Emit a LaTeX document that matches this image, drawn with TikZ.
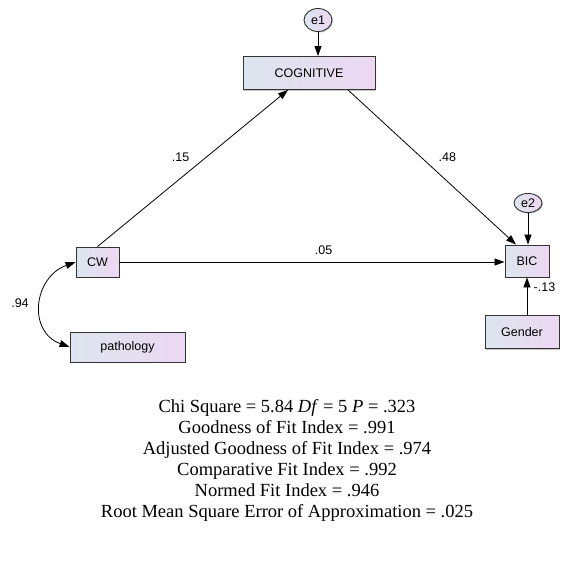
\documentclass[tikz,border=0pt]{standalone}
\usepackage{fontspec}
\setmainfont{Liberation Serif}
\setsansfont{Liberation Sans}
\usetikzlibrary{arrows.meta}
\usetikzlibrary{positioning}
\usetikzlibrary{shapes.geometric}
\usetikzlibrary{shadows}
\definecolor{boxl}{RGB}{221,229,238}
\definecolor{boxr}{RGB}{236,216,242}
\tikzset{var/.style = {draw = black!80, line width = 0.9pt, left color = boxl, right color = boxr,
                       drop shadow = {shadow xshift = 1pt, shadow yshift = -1pt, fill = black!45},
                       inner sep = 0, font = \sffamily\fontsize{12.5}{14}\selectfont}}
\tikzset{err/.style = {var, ellipse}}
\tikzset{arr/.style = {-{Triangle[length = 10pt, width = 7pt]}, line width = 0.8pt}}
\tikzset{cov/.style = {{Triangle[length = 10pt, width = 7pt]}-{Triangle[length = 10pt, width = 7pt]}, line width = 0.8pt}}
\tikzset{coef/.style = {font = \sffamily\fontsize{12.5}{14}\selectfont}}

\begin{document}
\begin{tikzpicture}[x = 1pt, y = -1pt]
      \useasboundingbox (0, 0) rectangle (562, 560);
      \node [err, minimum width = 28, minimum height = 23] (e1) at (318, 20) {e1};
      \node [var, minimum width = 132, minimum height = 33] (cog) at (309, 73) {COGNITIVE};
      \node [var, minimum width = 43, minimum height = 30] (cw) at (97.5, 262) {CW};
      \node [var, minimum width = 115, minimum height = 30] (path) at (127.5, 347) {pathology};
      \node [var, minimum width = 44, minimum height = 32] (bic) at (527, 261) {BIC};
      \node [err, minimum width = 28, minimum height = 19] (e2) at (528, 203) {e2};
      \node [var, minimum width = 74, minimum height = 33] (gender) at (522, 332) {Gender};
      \draw [arr] (e1) -- (e1 |- cog.north);
      \draw [arr] (e2) -- (e2 |- bic.north);
      \draw [arr] (cw.north) -- ([xshift = -21]cog.south) node [coef, pos = 0.57, left = 13pt] {.15};
      \draw [arr] ([xshift = 39]cog.south) -- ([xshift = -11]bic.north) node [coef, pos = 0.434, right = 14pt] {.48};
      \draw [arr] (cw.east) -- (cw.east -| bic.west) node [coef, pos = 0.53, above = 4pt] {.05};
      \draw [arr] (gender.north -| bic.south) -- (bic.south) node [coef, pos = 0.75, right = 3pt] {-.13};
      \draw [cov] (cw.west) to [out = 200, in = 160, looseness = 1.35] (path.west);
      \node [coef] (r) at (20, 303) {.94};
      \node [align = center, font = \fontsize{18.5}{21}\selectfont] (fit) at (287, 460)
            {Chi Square = 5.84 \textit{Df} = 5 \textit{P} = .323\\
             Goodness of Fit Index = .991\\
             Adjusted Goodness of Fit Index = .974\\
             Comparative Fit Index = .992\\
             Normed Fit Index = .946\\
             Root Mean Square Error of Approximation = .025};
    \end{tikzpicture}
\end{document}
